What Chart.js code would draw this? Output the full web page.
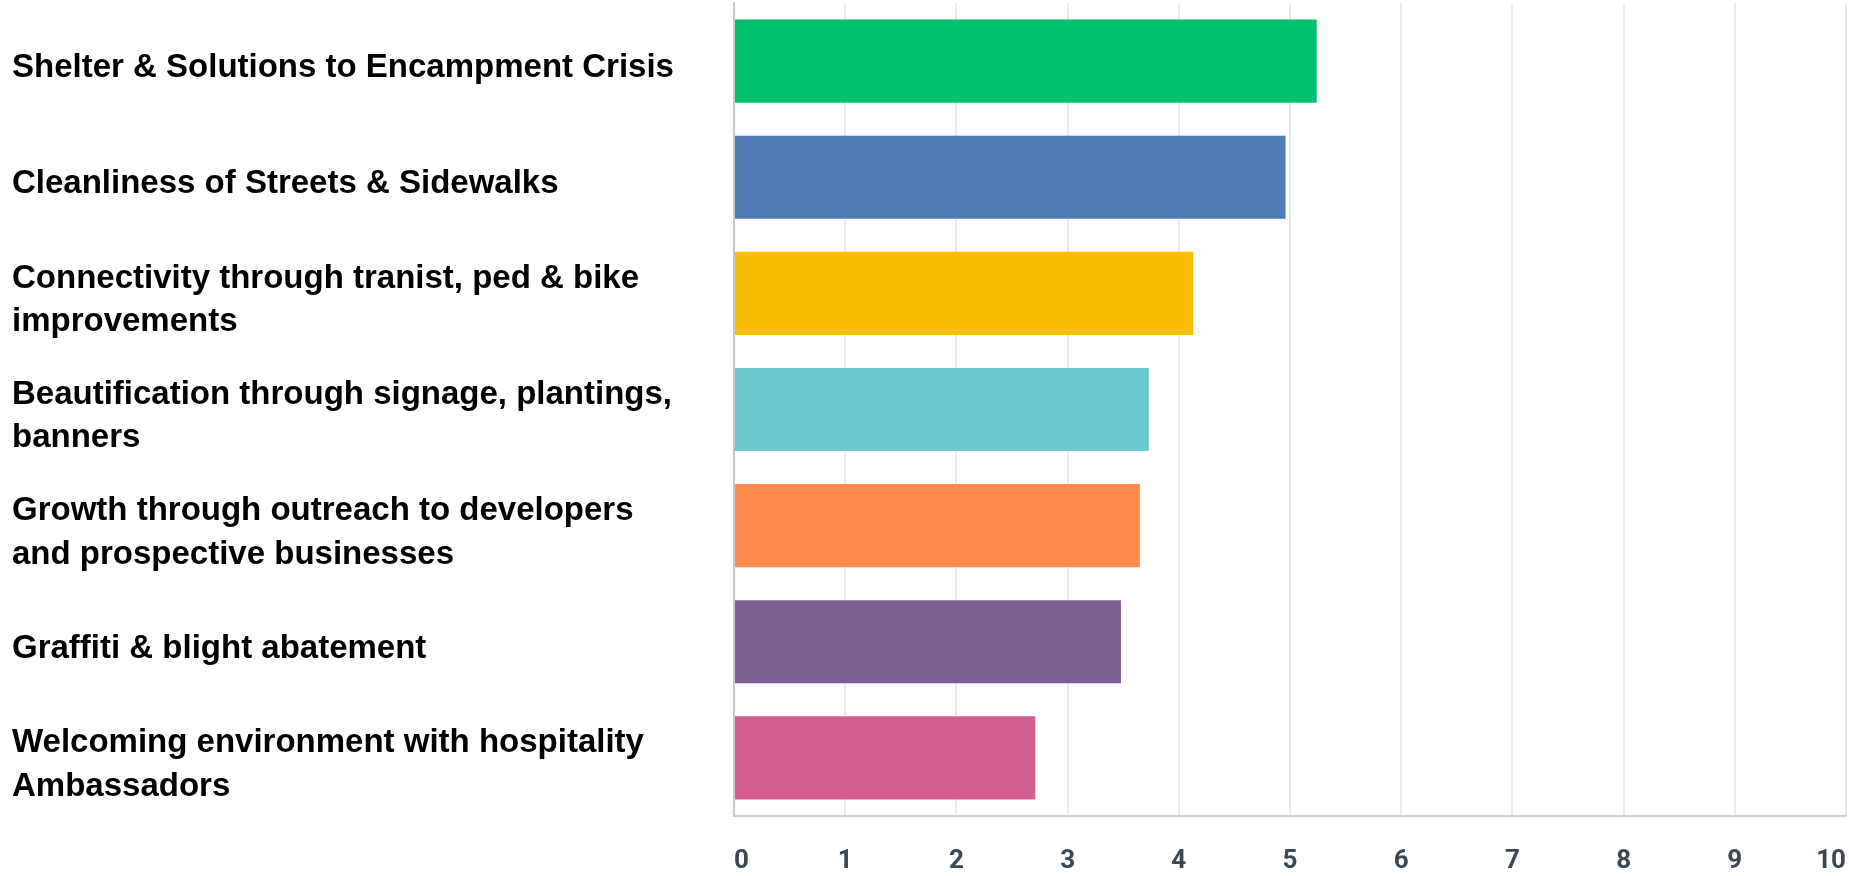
<!DOCTYPE html>
<html><head><meta charset="utf-8">
<script src="https://cdn.jsdelivr.net/npm/chart.js@4.4.1/dist/chart.umd.min.js"></script>
<style>html,body{margin:0;padding:0;background:#fff;overflow:hidden}#wrap{position:relative;width:1849px;height:876px}</style>
</head><body><div id="wrap"><canvas id="c"></canvas></div>
<script>
const categories = [
  "Shelter & Solutions to Encampment Crisis",
  "Cleanliness of Streets & Sidewalks",
  ["Connectivity through tranist, ped & bike", "improvements"],
  ["Beautification through signage, plantings,", "banners"],
  ["Growth through outreach to developers", "and prospective businesses"],
  "Graffiti & blight abatement",
  ["Welcoming environment with hospitality", "Ambassadors"]
];
const values = [5.24, 4.96, 4.13, 3.73, 3.65, 3.48, 2.71];
const barColors = ["#00BF6F", "#507CB6", "#F9BE00", "#6BC8CD", "#FF8B4F", "#7D5E90", "#D25F90"];
const xTickLabels = ["0", "1", "2", "3", "4", "5", "6", "7", "8", "9", "10"];

new Chart(document.getElementById('c'), {
  type: 'bar',
  data: {
    labels: categories,
    datasets: [{
      data: values,
      backgroundColor: barColors,
      borderWidth: 0,
      categoryPercentage: 1,
      barPercentage: 0.716
    }]
  },
  options: {
    indexAxis: 'y',
    responsive: true,
    maintainAspectRatio: false,
    animation: false,
    devicePixelRatio: 1,
    layout: { padding: { left: 12, top: 3, right: 3, bottom: 0 } },
    plugins: { legend: { display: false }, tooltip: { enabled: false } },
    scales: {
      x: {
        type: 'linear', min: 0, max: 10,
        ticks: {
          stepSize: 1, align: 'inner', padding: 30,
          color: '#3d4753',
          font: { family: 'Roboto', size: 26, weight: 'bold' },
          callback: (v, i) => xTickLabels[i]
        },
        grid: { color: '#ebebeb', lineWidth: 2, drawTicks: false },
        border: { color: '#d3d3d3', width: 2 },
        afterFit: s => { s.height = 60; s.paddingLeft = 0; s.paddingRight = 0; }
      },
      y: {
        ticks: {
          crossAlign: 'far',
          labelOffset: 7,
          color: '#000',
          font: { family: '"Liberation Sans", Arial, sans-serif', size: 33, weight: 'bold', lineHeight: 1.32 }
        },
        grid: { display: false },
        border: { color: '#c8c8c8', width: 2 },
        afterFit: s => { s.width = 722; s.paddingTop = 0; s.paddingBottom = 0; }
      }
    }
  }
});
</script></body></html>
